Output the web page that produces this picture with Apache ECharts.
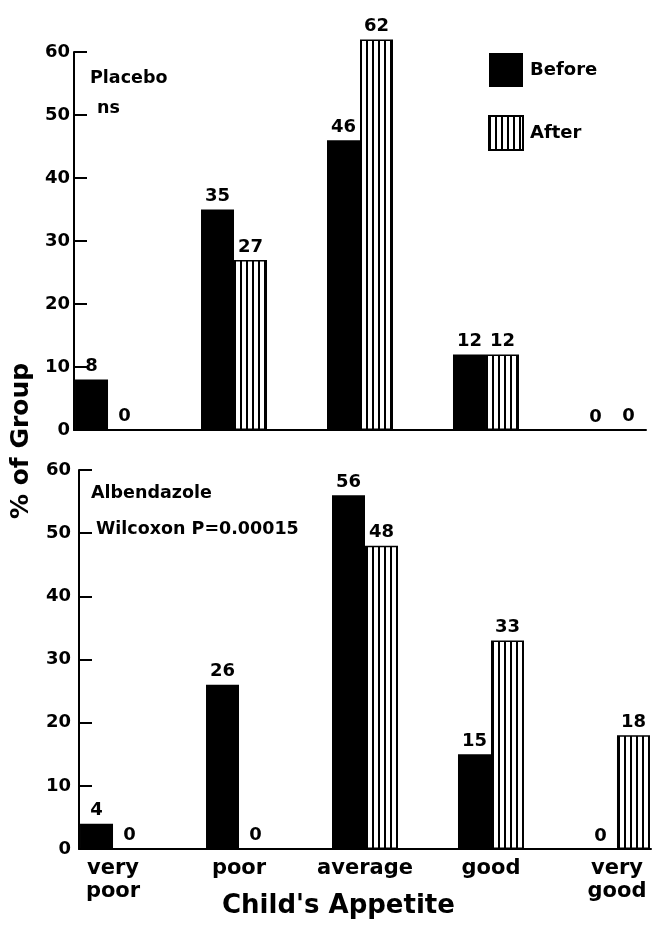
<!DOCTYPE html>
<html>
<head>
<meta charset="utf-8">
<script src="https://cdn.jsdelivr.net/npm/echarts@6/dist/echarts.min.js"></script>
<style>
html, body { margin: 0; padding: 0; background: #fff; }
#chart { width: 652px; height: 933px; }
</style>
</head>
<body>
<div id="chart"></div>
<script>
// child's appetite categories
var categories = ['very\npoor', 'poor', 'average', 'good', 'very\ngood'];
var yTicks = [0, 10, 20, 30, 40, 50, 60];
// % of group - placebo
var placeboBefore = [8, 35, 46, 12, 0];
var placeboAfter = [0, 27, 62, 12, 0];
// % of group - albendazole
var albendazoleBefore = [4, 26, 56, 15, 0];
var albendazoleAfter = [0, 0, 48, 33, 18];

var font = 'DejaVu Sans';

// vertical hatch for the "After" bars
function makeStripes() {
  var c = document.createElement('canvas');
  c.width = 6;
  c.height = 8;
  var ctx = c.getContext('2d');
  ctx.fillStyle = '#ffffff';
  ctx.fillRect(0, 0, 6, 8);
  ctx.fillStyle = '#000000';
  ctx.fillRect(0, 0, 2, 8);
  return c;
}
var hatch = { image: makeStripes(), repeat: 'repeat' };

function toPairs(arr) {
  return arr.map(function (v, i) { return [i, v]; });
}

function xAxisFor(gridIndex, showLabels) {
  return {
    gridIndex: gridIndex,
    type: 'value',
    min: -0.27,
    max: 4.27,
    axisLine: { show: true, onZero: false, lineStyle: { color: '#000', width: 2 } },
    axisTick: { show: false },
    splitLine: { show: false },
    axisLabel: {
      show: showLabels,
      customValues: [0, 1, 2, 3, 4],
      formatter: function (v) { return categories[Math.round(v)]; },
      color: '#000',
      fontFamily: font,
      fontWeight: 'bold',
      fontSize: 21,
      lineHeight: 23,
      margin: 8
    }
  };
}

function yAxisFor(gridIndex, margin) {
  return {
    gridIndex: gridIndex,
    type: 'value',
    min: yTicks[0],
    max: yTicks[yTicks.length - 1],
    interval: 10,
    axisLine: { show: true, onZero: false, lineStyle: { color: '#000', width: 2 } },
    axisTick: { show: true, inside: true, length: 13, lineStyle: { color: '#000', width: 2 } },
    splitLine: { show: false },
    axisLabel: {
      color: '#000',
      fontFamily: font,
      fontWeight: 'bold',
      fontSize: 18,
      margin: margin
    }
  };
}

var barLabel = {
  show: true,
  position: 'top',
  distance: 4,
  color: '#000',
  fontFamily: font,
  fontWeight: 'bold',
  fontSize: 18
};

function barSeries(name, idx, data) {
  var isAfter = name === 'After';
  return {
    name: name,
    type: 'bar',
    xAxisIndex: idx,
    yAxisIndex: idx,
    barWidth: 33,
    barGap: '0%',
    clip: false,
    data: toPairs(data),
    label: barLabel,
    itemStyle: isAfter
      ? { color: hatch, borderColor: '#000', borderWidth: 1.5 }
      : { color: '#000' },
    emphasis: { disabled: true }
  };
}

var titleText = { color: '#000', fontFamily: font, fontWeight: 'bold', fontSize: 17.5 };

var chart = echarts.init(document.getElementById('chart'));
chart.setOption({
  animation: false,
  backgroundColor: '#fff',
  title: [
    { text: 'Placebo', left: 90, top: 69, padding: 0, textStyle: titleText },
    { text: 'ns', left: 97, top: 99, padding: 0, textStyle: titleText },
    { text: 'Albendazole', left: 91, top: 484, padding: 0, textStyle: titleText },
    { text: 'Wilcoxon P=0.00015', left: 96, top: 520, padding: 0, textStyle: titleText },
    { text: "Child's Appetite", left: 222, top: 893, padding: 0,
      textStyle: { color: '#000', fontFamily: font, fontWeight: 'bold', fontSize: 26 } }
  ],
  legend: {
    orient: 'vertical',
    left: 483,
    top: 48,
    itemWidth: 34,
    itemHeight: 34,
    itemGap: 28,
    icon: 'rect',
    selectedMode: false,
    data: ['Before', 'After'],
    textStyle: {
      color: '#000',
      fontFamily: font,
      fontWeight: 'bold',
      fontSize: 18,
      padding: [14, 0, 0, 2]
    }
  },
  graphic: [{
    type: 'text',
    x: 9,
    y: 441,
    rotation: Math.PI / 2,
    style: {
      text: '% of Group',
      fill: '#000',
      font: 'bold 25px "DejaVu Sans"',
      align: 'center',
      verticalAlign: 'top'
    }
  }],
  grid: [
    { left: 74, top: 52, width: 572, height: 378 },
    { left: 79, top: 470, width: 572, height: 379 }
  ],
  xAxis: [xAxisFor(0, false), xAxisFor(1, true)],
  yAxis: [yAxisFor(0, 4), yAxisFor(1, 8)],
  series: [
    barSeries('Before', 0, placeboBefore),
    barSeries('After', 0, placeboAfter),
    barSeries('Before', 1, albendazoleBefore),
    barSeries('After', 1, albendazoleAfter)
  ]
});
</script>
</body>
</html>
